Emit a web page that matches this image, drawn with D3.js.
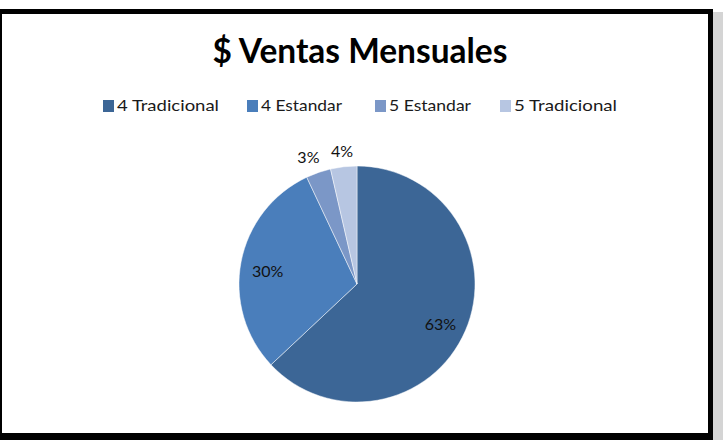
<!DOCTYPE html>
<html>
<head>
<meta charset="utf-8">
<script src="https://cdn.jsdelivr.net/npm/d3@7"></script>
<style>
  body { margin: 0; background: #fff; }
  svg { display: block; font-family: Lato, "Open Sans", sans-serif; }
</style>
</head>
<body>
<svg id="chart" width="723" height="440"></svg>
<script>
// Data
const categories = ["4 Tradicional", "4 Estandar", "5 Estandar", "5 Tradicional"];
const shares = [63, 30, 3.4, 3.6];
const labels = ["63%", "30%", "3%", "4%"];
const colors = ["#3c6696", "#4a7ebb", "#7b97c7", "#b7c6e2"];

const W = 723, H = 440;
const svg = d3.select("#chart");

// frame with heavy black border (like a pasted screenshot)
svg.append("rect").attr("x", 0).attr("y", 0).attr("width", W).attr("height", H).attr("fill", "#fff");
svg.append("rect").attr("x", 713).attr("y", 12).attr("width", 10).attr("height", 428).attr("fill", "#d4d4d4");
svg.append("rect").attr("x", 0).attr("y", 9).attr("width", 713).attr("height", 431).attr("fill", "#000");
svg.append("rect").attr("x", 2).attr("y", 14).attr("width", 706).attr("height", 419).attr("fill", "#fff");

// title
const title = svg.append("text")
    .attr("x", 360).attr("y", 63)
    .attr("text-anchor", "middle")
    .style("font-weight", "bold")
    .style("font-size", "30px")
    .attr("fill", "#000")
    .text("$ Ventas Mensuales");
let tw = title.node().getComputedTextLength();
title.style("font-size", (30 * 295 / tw) + "px");

// legend (Calibri-like narrow text, squeezed to the reference widths)
const legendX = [103, 247, 375, 500];
const legendW = [102, 81, 82, 103];
const legend = svg.append("g");
categories.forEach((c, i) => {
    legend.append("rect")
        .attr("x", legendX[i]).attr("y", 100)
        .attr("width", 11).attr("height", 12)
        .attr("fill", colors[i]);
    legend.append("text")
        .attr("x", legendX[i] + 14).attr("y", 111)
        .style("font-size", "16px")
        .attr("fill", "#1a1a1a")
        .attr("textLength", legendW[i])
        .attr("lengthAdjust", "spacingAndGlyphs")
        .text(c);
});

// pie
const cx = 357, cy = 284, r = 118;
const pie = d3.pie().sort(null).value(d => d)(shares);
const arc = d3.arc().innerRadius(0).outerRadius(r);

const g = svg.append("g").attr("transform", `translate(${cx},${cy})`);
g.selectAll("path")
    .data(pie)
    .join("path")
    .attr("d", arc)
    .attr("fill", (d, i) => colors[i])
    .attr("stroke", "#fff")
    .attr("stroke-width", 0.8)
    .attr("stroke-opacity", 0.6);

const inside = d3.arc().innerRadius(r * 0.77).outerRadius(r * 0.77);
const outside = d3.arc().innerRadius(r * 1.13).outerRadius(r * 1.13);

g.selectAll("text.lbl")
    .data(pie)
    .join("text")
    .attr("class", "lbl")
    .attr("transform", d => {
        const small = d.endAngle - d.startAngle < 0.3;
        const p = (small ? outside : inside).centroid(d);
        if (small && d.index === 2) p[0] -= 5;
        return `translate(${p[0]},${p[1] + (small ? 5 : 10)})`;
    })
    .attr("text-anchor", "middle")
    .style("font-size", "16px")
    .attr("fill", "#111")
    .text((d, i) => labels[i]);
</script>
</body>
</html>
